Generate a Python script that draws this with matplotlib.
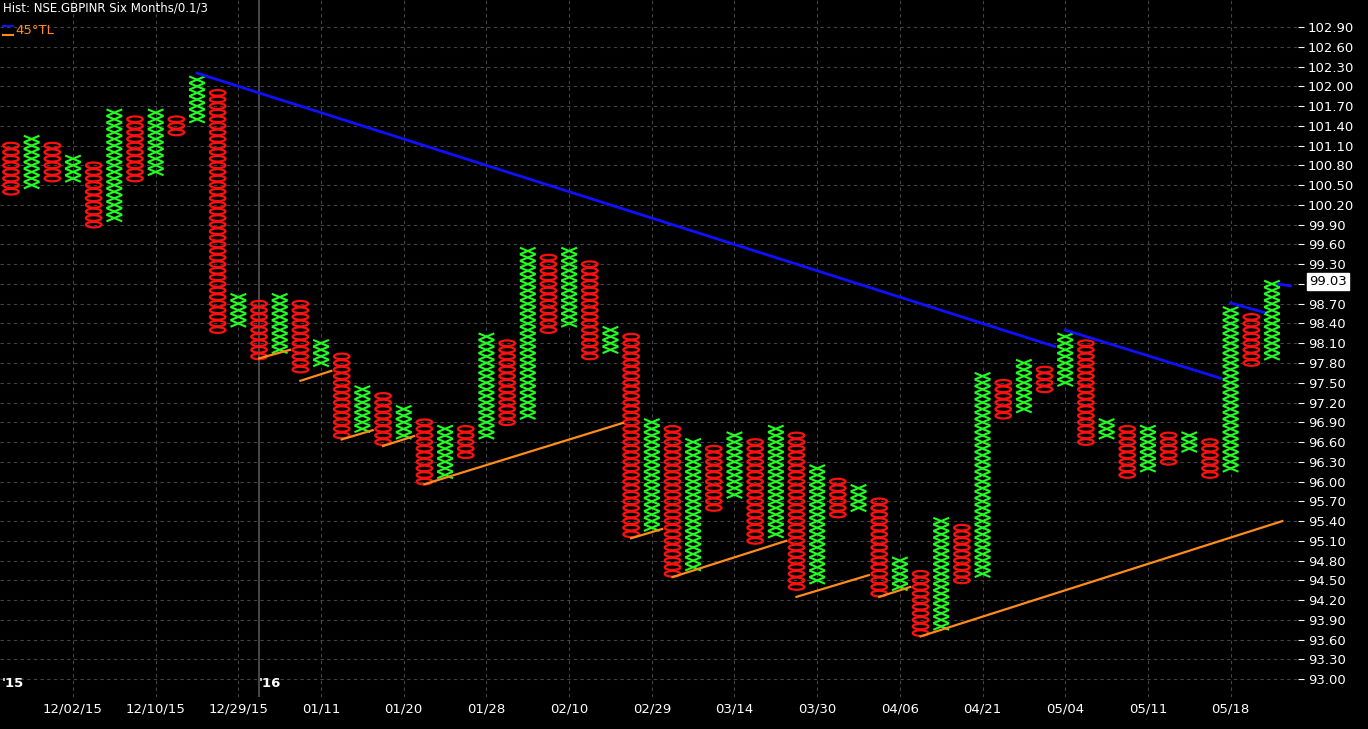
import numpy as np
import matplotlib
matplotlib.use("Agg")
import matplotlib.pyplot as plt
from matplotlib.patches import Ellipse
from matplotlib.collections import LineCollection

BOX = 0.1

# column type, high, low (P&F chart, 0.1 box, 3 box reversal)
col_types = list("OXOXOXOXOXOXOXOXOXOXOXOXOXOXOXOXOXOXOXOXOXOXOXOXOXOXOXOXOXOX") + ["O", "X"]
col_high = [101.1, 101.2, 101.1, 100.9, 100.8, 101.6, 101.5, 101.6, 101.5, 102.1,
            101.9, 98.8, 98.7, 98.8, 98.7, 98.1, 97.9, 97.4, 97.3, 97.1,
            96.9, 96.8, 96.8, 98.2, 98.1, 99.5, 99.4, 99.5, 99.3, 98.3,
            98.2, 96.9, 96.8, 96.6, 96.5, 96.7, 96.6, 96.8, 96.7, 96.2,
            96.0, 95.9, 95.7, 94.8, 94.6, 95.4, 95.3, 97.6, 97.5, 97.8,
            97.7, 98.2, 98.1, 96.9, 96.8, 96.8, 96.7, 96.7, 96.6, 98.6,
            98.5, 99.0]
col_low = [100.4, 100.5, 100.6, 100.6, 99.9, 100.0, 100.6, 100.7, 101.3, 101.5,
           98.3, 98.4, 97.9, 98.0, 97.7, 97.8, 96.7, 96.8, 96.6, 96.7,
           96.0, 96.1, 96.4, 96.7, 96.9, 97.0, 98.3, 98.4, 97.9, 98.0,
           95.2, 95.3, 94.6, 94.7, 95.6, 95.8, 95.1, 95.2, 94.4, 94.5,
           95.5, 95.6, 94.3, 94.4, 93.7, 93.8, 94.5, 94.6, 97.0, 97.1,
           97.4, 97.5, 96.6, 96.7, 96.1, 96.2, 96.3, 96.5, 96.1, 96.2,
           97.8, 97.9]

date_cols = [3, 7, 11, 15, 19, 23, 27, 31, 35, 39, 43, 47, 51, 55, 59]
date_labels = ["12/02/15", "12/10/15", "12/29/15", "01/11", "01/20", "01/28", "02/10",
               "02/29", "03/14", "03/30", "04/06", "04/21", "05/04", "05/11", "05/18"]
year_cols = [-0.45, 12.0]
year_labels = ["'15", "'16"]

# trendlines: (col0, price0, col1, price1)
resist_lines = [(9.0, 102.2, 50.5, 98.05), (51.0, 98.3, 58.5, 97.57),
                (59.0, 98.71, 60.6, 98.57), (61.3, 99.0, 61.9, 98.97)]
support_lines = [(12.0, 97.87, 13.5, 98.0), (14.0, 97.53, 15.5, 97.68),
                 (16.0, 96.64, 17.5, 96.78), (18.0, 96.54, 19.5, 96.69),
                 (20.0, 95.96, 29.6, 96.89), (30.0, 95.14, 31.5, 95.28),
                 (32.0, 94.55, 37.5, 95.1), (38.0, 94.25, 41.5, 94.58),
                 (42.0, 94.25, 43.5, 94.4), (44.0, 93.65, 61.5, 95.4)]

last_price = 99.03
yticks = np.round(np.arange(93.0, 102.91, 0.3), 2)

fig = plt.figure(figsize=(13.68, 7.29), dpi=100, facecolor="black")
ax = fig.add_axes([0, 32 / 729, 1298 / 1368, 697 / 729])
ax.set_facecolor("black")
ax.set_xlim(-0.53, 62.26)
ax.set_ylim(92.73, 103.31)

for y in yticks:
    ax.axhline(y, color="#444444", lw=0.8, ls=(0, (3, 3)), zorder=0)
for c in date_cols:
    ax.axvline(c, color="#444444", lw=0.8, ls=(0, (3, 3)), zorder=0)
ax.axvline(year_cols[1], color="#555555", lw=1.2, zorder=0)

xsegs = []
for i, (t, hi, lo) in enumerate(zip(col_types, col_high, col_low)):
    n = int(round((hi - lo) / BOX)) + 1
    for k in range(n):
        p = lo + k * BOX
        if t == "O":
            ax.add_patch(Ellipse((i, p), 0.75, BOX * 0.85, fill=False,
                                 ec="#ff1010", lw=1.6, zorder=3))
        else:
            xsegs.append([(i - 0.38, p - BOX / 2), (i + 0.38, p + BOX / 2)])
            xsegs.append([(i - 0.38, p + BOX / 2), (i + 0.38, p - BOX / 2)])
ax.add_collection(LineCollection(xsegs, colors="#22ff22", lw=1.5, zorder=3))

for c0, p0, c1, p1 in resist_lines:
    ax.plot([c0, c1], [p0, p1], color="#1010ff", lw=2, zorder=4)
for c0, p0, c1, p1 in support_lines:
    ax.plot([c0, c1], [p0, p1], color="#ff8c1a", lw=1.6, zorder=4)

for s in ax.spines.values():
    s.set_visible(False)
ax.set_xticks([])
ax.yaxis.tick_right()
ax.set_yticks(yticks)
# the 99.00 label is covered by the last-price box
ax.set_yticklabels(["" if abs(v - 99.0) < 1e-6 else f"{v:.2f}" for v in yticks])
ax.tick_params(axis="y", colors="white", labelcolor="white", labelsize=9.5,
               length=4, pad=3)

for c, lab in zip(date_cols, date_labels):
    ax.annotate(lab, (c, 0), xycoords=("data", "axes fraction"), xytext=(0, -9),
                textcoords="offset points", ha="center", va="center",
                color="white", fontsize=9.5)
for c, lab in zip(year_cols, year_labels):
    ax.annotate(lab, (c, 0), xycoords=("data", "axes fraction"), xytext=(0, 10),
                textcoords="offset points", ha="left", va="center",
                color="white", fontsize=9.5, fontweight="bold")

ax.annotate(f"{last_price:.2f}", (1, last_price), xycoords=("axes fraction", "data"),
            xytext=(8, 0), textcoords="offset points", ha="left", va="center",
            color="black", fontsize=9.5,
            bbox=dict(boxstyle="square,pad=0.15", fc="white", ec="white"))

fig.text(3 / 1368, 1 - 8 / 729, "Hist: NSE.GBPINR Six Months/0.1/3", color="white",
         fontsize=8.5, va="center")
fig.text(15 / 1368, 1 - 31 / 729, "45°TL", color="#ff8c1a", fontsize=9.5, va="center")
fig.lines.append(plt.Line2D([3 / 1368, 13 / 1368], [1 - 26 / 729, 1 - 26 / 729],
                            color="#1010ff", lw=1.5, transform=fig.transFigure))
fig.lines.append(plt.Line2D([3 / 1368, 13 / 1368], [1 - 35 / 729, 1 - 35 / 729],
                            color="#ff8c1a", lw=1.5, transform=fig.transFigure))

fig.savefig("out.png", dpi=100, facecolor="black")
